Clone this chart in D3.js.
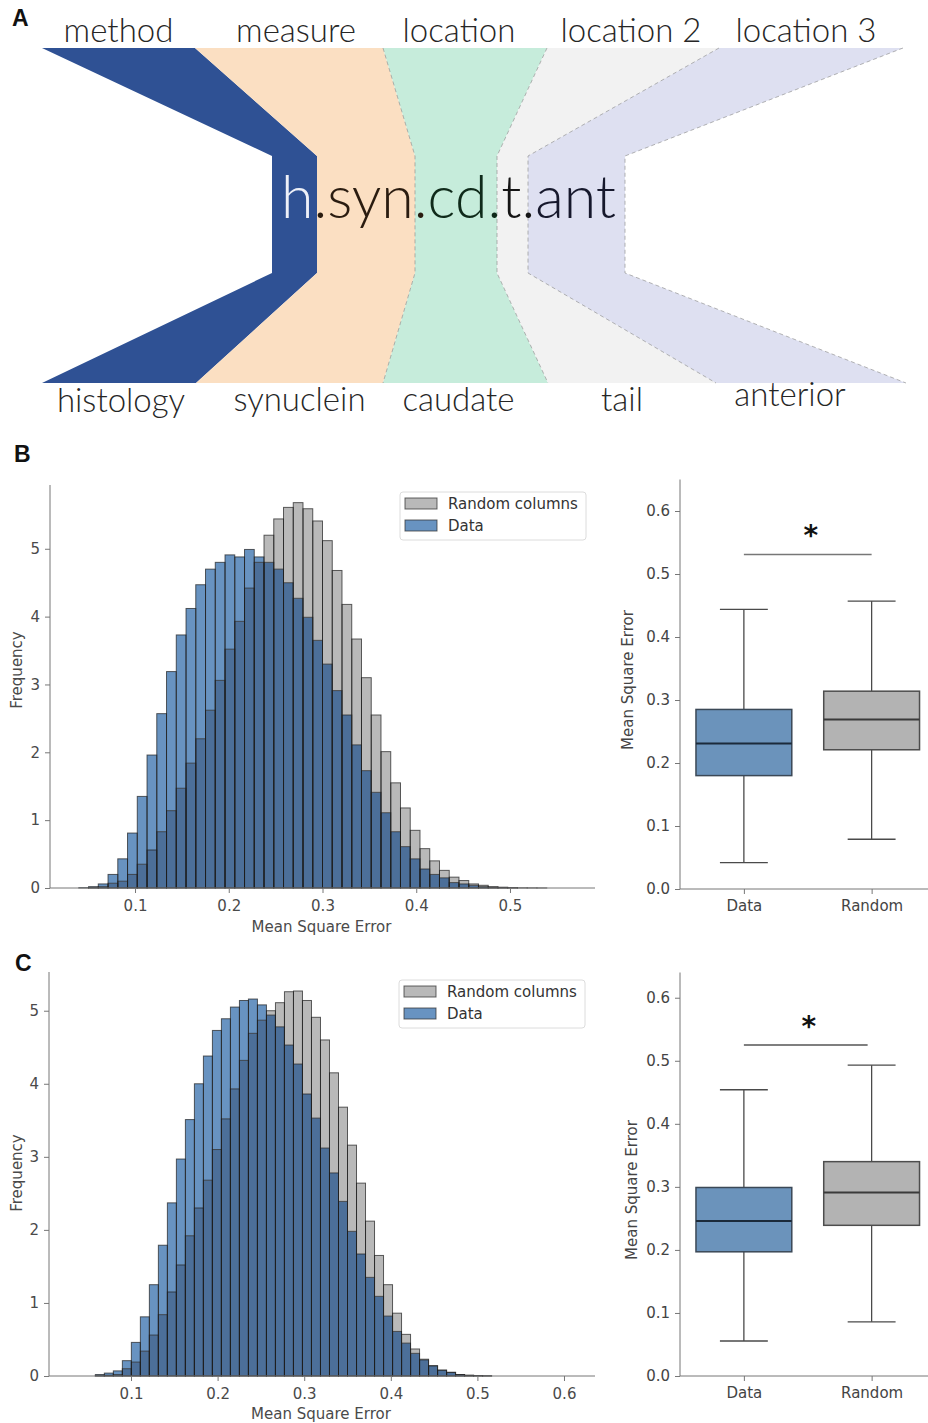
<!DOCTYPE html>
<html><head><meta charset="utf-8">
<script src="https://cdn.jsdelivr.net/npm/d3@7"></script>
<style>body{margin:0;background:#fff} svg{display:block}</style>
</head><body>
<svg id="chart" width="928" height="1423"></svg>
<script>
// ---------------- DATA ----------------
// Panel A: naming scheme diagram
const topLabels = ["method", "measure", "location", "location 2", "location 3"];
const bottomLabels = ["histology", "synuclein", "caudate", "tail", "anterior"];
const codeParts = ["h", ".syn.", "cd.", "t.", "ant"];
// cumulative band boundaries (relative units) at the top, waist and bottom of the ribbon
const topEdges = [0, 1.53, 3.41, 5.05, 6.77, 8.61];
const waistEdges = [2.30, 2.75, 3.73, 4.55, 4.86, 5.83];
const bottomEdges = [0, 1.54, 3.41, 5.06, 6.74, 8.64];

// Panel B histograms (density), bin width 0.0104 starting at 0.0400
const binWidth = 0.0104;
const binStartB = 0.0400;
const histBData = [0.005,0.02,0.06,0.20,0.43,0.81,1.35,1.96,2.57,3.19,3.73,4.12,4.47,4.70,4.80,4.91,4.88,4.99,4.88,4.80,4.70,4.50,4.27,3.99,3.65,3.30,2.91,2.55,2.11,1.73,1.41,1.11,0.83,0.61,0.43,0.28,0.20,0.15,0.08,0.06,0.04,0.02,0.01,0.005,0.002,0,0,0];
const histBRandom = [0,0.005,0.02,0.07,0.10,0.20,0.35,0.56,0.83,1.14,1.47,1.84,2.20,2.62,3.06,3.52,3.93,4.42,4.80,5.20,5.44,5.61,5.68,5.59,5.41,5.12,4.68,4.18,3.67,3.10,2.55,2.01,1.55,1.18,0.85,0.58,0.40,0.26,0.16,0.11,0.06,0.04,0.02,0.012,0.006,0.003,0.002,0.001];
// Panel C histograms, starting at 0.0588
const binStartC = 0.0588;
const histCData = [0.02,0.04,0.07,0.21,0.46,0.81,1.25,1.79,2.37,2.97,3.51,4.00,4.38,4.73,4.89,5.05,5.14,5.16,5.08,4.94,4.78,4.53,4.27,3.86,3.53,3.12,2.78,2.39,1.98,1.67,1.35,1.09,0.82,0.61,0.45,0.31,0.22,0.14,0.08,0.05,0.02,0.01,0.005,0.002];
const histCRandom = [0.003,0.01,0.02,0.10,0.19,0.34,0.56,0.84,1.15,1.52,1.92,2.30,2.68,3.10,3.52,3.93,4.32,4.69,4.87,5.00,5.11,5.26,5.27,5.14,4.91,4.60,4.15,3.68,3.16,2.64,2.12,1.65,1.25,0.86,0.57,0.37,0.23,0.14,0.08,0.05,0.02,0.01,0.006,0.003];
const histXTicksB = [0.1, 0.2, 0.3, 0.4, 0.5];
const histXTicksC = [0.1, 0.2, 0.3, 0.4, 0.5, 0.6];
const histYTicks = [0, 1, 2, 3, 4, 5];
const legendLabels = ["Random columns", "Data"];

// Box plots: [lower whisker, Q1, median, Q3, upper whisker]
const boxCategories = ["Data", "Random"];
const boxBData = [0.042, 0.180, 0.231, 0.285, 0.444];
const boxBRandom = [0.079, 0.221, 0.269, 0.314, 0.457];
const boxCData = [0.0555, 0.197, 0.246, 0.299, 0.454];
const boxCRandom = [0.086, 0.239, 0.291, 0.340, 0.493];
const sigLevelB = 0.531, sigLevelC = 0.525;
const boxYTicks = [0.0, 0.1, 0.2, 0.3, 0.4, 0.5, 0.6];

// ---------------- STYLE ----------------
const bandColors = ["#2f5194", "#fbdfc2", "#c6ecdb", "#f2f2f2", "#dee0f1"];
const codeColors = ["#eef0f8", "#2a1c10", "#0f2a1a", "#151515", "#16182c"];
const topNudge = [0, 7, -6, -2, -5];      // px offsets of labels from band centres
const bottomNudge = [2, 10, -7, -10, -21];
const bottomBase = [412, 411, 411, 411, 406];
const blueFill = "#6893c1", grayFill = "#b9b9b9", overlapFill = "#4c6f99";
const axisFont = "'DejaVu Sans', sans-serif";
const textCol = "#4a4a4a";

const svg = d3.select("#chart");

// ---------------- PANEL A ----------------
(function () {
  const x = d3.scaleLinear().domain([0, 8.64]).range([42, 906]);
  const y = d3.scaleLinear().domain([0, 1, 2, 3]).range([48, 156, 273, 383]);
  const g = svg.append("g");
  const line = d3.line();
  for (let i = 0; i < 5; i++) {
    const pts = [
      [x(topEdges[i]), y(0)], [x(topEdges[i + 1]), y(0)],
      [x(waistEdges[i + 1]), y(1)], [x(waistEdges[i + 1]), y(2)],
      [x(bottomEdges[i + 1]), y(3)], [x(bottomEdges[i]), y(3)],
      [x(waistEdges[i]), y(2)], [x(waistEdges[i]), y(1)]
    ];
    g.append("path").attr("d", line(pts) + "Z").attr("fill", bandColors[i]);
  }
  for (let j = 2; j <= 5; j++) {
    const pts = [[x(topEdges[j]), y(0)], [x(waistEdges[j]), y(1)], [x(waistEdges[j]), y(2)], [x(bottomEdges[j]), y(3)]];
    g.append("path").attr("d", line(pts)).attr("fill", "none")
      .attr("stroke", "#8a8a8a").attr("stroke-width", 0.8).attr("stroke-dasharray", "4,3").attr("opacity", 0.8);
  }
  function styleLab(sel) {
    sel.attr("text-anchor", "middle").style("font-family", "Lato, 'Open Sans', sans-serif")
      .style("font-weight", 300).style("font-size", "33px").attr("fill", "#262626");
  }
  g.selectAll("text.top").data(topLabels).join("text").attr("class", "top")
    .attr("x", (d, i) => x((topEdges[i] + topEdges[i + 1]) / 2) + topNudge[i]).attr("y", 42)
    .call(styleLab).text(d => d);
  g.selectAll("text.bot").data(bottomLabels).join("text").attr("class", "bot")
    .attr("x", (d, i) => x((bottomEdges[i] + bottomEdges[i + 1]) / 2) + bottomNudge[i]).attr("y", (d, i) => bottomBase[i])
    .call(styleLab).text(d => d);
  const t = g.append("text").attr("x", x((waistEdges[0] + waistEdges[5]) / 2)).attr("y", 218)
    .attr("text-anchor", "middle").style("font-family", "Lato, 'Open Sans', sans-serif")
    .style("font-weight", 300).style("font-size", "59px");
  t.selectAll("tspan").data(codeParts).join("tspan").attr("fill", (d, i) => codeColors[i]).text(d => d);
})();

// ---------------- panel letters ----------------
[["A", 12, 26], ["B", 14, 462], ["C", 15, 971]].forEach(([s, px, py]) => {
  svg.append("text").attr("x", px).attr("y", py).text(s)
    .style("font-family", "'Liberation Sans', Arial, sans-serif").style("font-weight", "bold")
    .style("font-size", "23px").attr("fill", "#111");
});

// ---------------- HISTOGRAM ----------------
function drawHist(o) {
  const g = svg.append("g");
  const x = d3.scaleLinear().domain(o.xDomain).range(o.xRange);
  const y = d3.scaleLinear().domain(o.yDomain).range(o.yRange);
  const bins = o.blue.map((b, i) => ({ b, r: o.gray[i] || 0, x0: o.start + i * binWidth }));
  const rx = d => x(d.x0), rw = d => x(d.x0 + binWidth) - x(d.x0);
  // overlap part
  g.append("g").selectAll("rect").data(bins.filter(d => Math.min(d.b, d.r) > 0)).join("rect")
    .attr("x", rx).attr("width", rw).attr("y", d => y(Math.min(d.b, d.r))).attr("height", d => y(0) - y(Math.min(d.b, d.r)))
    .attr("fill", overlapFill);
  // blue only
  g.append("g").selectAll("rect").data(bins.filter(d => d.b > d.r)).join("rect")
    .attr("x", rx).attr("width", rw).attr("y", d => y(d.b)).attr("height", d => y(d.r) - y(d.b))
    .attr("fill", blueFill);
  // gray only
  g.append("g").selectAll("rect").data(bins.filter(d => d.r > d.b)).join("rect")
    .attr("x", rx).attr("width", rw).attr("y", d => y(d.r)).attr("height", d => y(d.b) - y(d.r))
    .attr("fill", grayFill);
  // outlines
  ["r", "b"].forEach(k => {
    g.append("g").selectAll("rect").data(bins.filter(d => d[k] > 0)).join("rect")
      .attr("x", rx).attr("width", rw).attr("y", d => y(d[k])).attr("height", d => y(0) - y(d[k]))
      .attr("fill", "none").attr("stroke", "#1e1e1e").attr("stroke-opacity", 0.7).attr("stroke-width", 1);
  });
  const xa = g.append("g").attr("transform", `translate(0,${o.yRange[0]})`)
    .call(d3.axisBottom(x).tickValues(o.xTicks).tickFormat(d3.format(".1f")).tickSize(5).tickPadding(7));
  const ya = g.append("g").attr("transform", `translate(${o.xRange[0]},0)`)
    .call(d3.axisLeft(y).tickValues(histYTicks).tickFormat(d3.format("d")).tickSize(5).tickPadding(5));
  [xa, ya].forEach(a => {
    a.select(".domain").remove();
    a.selectAll("line").attr("stroke", "#777");
    a.selectAll("text").style("font-family", axisFont).style("font-size", "15px").attr("fill", textCol);
  });
  g.append("line").attr("x1", o.xRange[0]).attr("x2", o.xRange[1]).attr("y1", o.yRange[0]).attr("y2", o.yRange[0]).attr("stroke", "#777");
  g.append("line").attr("x1", o.xRange[0]).attr("x2", o.xRange[0]).attr("y1", o.yRange[0]).attr("y2", o.yRange[1]).attr("stroke", "#777");
  g.append("text").attr("x", (o.xRange[0] + o.xRange[1]) / 2 - 1).attr("y", o.xLabelY).attr("text-anchor", "middle")
    .style("font-family", axisFont).style("font-size", "15px").attr("fill", textCol).text("Mean Square Error");
  g.append("text").attr("transform", `translate(${o.yLabelX},${o.yLabelY}) rotate(-90)`).attr("text-anchor", "middle")
    .attr("dominant-baseline", "central")
    .style("font-family", axisFont).style("font-size", "15px").attr("fill", textCol).text("Frequency");
  const L = o.legend;
  g.append("rect").attr("x", L[0]).attr("y", L[1]).attr("width", 186).attr("height", 48).attr("rx", 3)
    .attr("fill", "#fff").attr("stroke", "#dcdcdc");
  legendLabels.forEach((lab, i) => {
    g.append("rect").attr("x", L[0] + 5).attr("y", L[1] + 6 + i * 22).attr("width", 32).attr("height", 11)
      .attr("fill", i === 0 ? grayFill : blueFill).attr("stroke", "#333").attr("stroke-opacity", 0.75);
    g.append("text").attr("x", L[0] + 48).attr("y", L[1] + 12 + i * 22).attr("dominant-baseline", "central")
      .style("font-family", axisFont).style("font-size", "15px").attr("fill", "#333").text(lab);
  });
}

drawHist({ xDomain: [0.0093, 0.5907], xRange: [50, 595], yDomain: [0, 5.94], yRange: [888, 485],
  start: binStartB, blue: histBData, gray: histBRandom, xTicks: histXTicksB,
  xLabelY: 932, yLabelX: 17, yLabelY: 670, legend: [400, 492] });
drawHist({ xDomain: [0.0053, 0.6358], xRange: [49, 595], yDomain: [0, 5.53], yRange: [1376, 972],
  start: binStartC, blue: histCData, gray: histCRandom, xTicks: histXTicksC,
  xLabelY: 1419, yLabelX: 17, yLabelY: 1173, legend: [399, 980] });

// ---------------- BOX PLOTS ----------------
function drawBox(o) {
  const g = svg.append("g");
  const x = d3.scaleLinear().domain([-0.5, 1.5]).range([680, 935.5]);
  const y = d3.scaleLinear().domain(o.yDomain).range(o.yRange);
  const sets = [o.data, o.random];
  const fills = ["#6b93bb", "#b3b3b3"], strokes = ["#3b4856", "#4d4d4d"], meds = ["#1b2a3a", "#3a3a3a"];
  sets.forEach((s, i) => {
    const c = x(i), hw = x(0.375) - x(0), cw = x(0.1875) - x(0);
    const ln = (x1, x2, y1, y2) => g.append("line").attr("x1", x1).attr("x2", x2).attr("y1", y1).attr("y2", y2)
      .attr("stroke", "#4a4a4a").attr("stroke-width", 1.3);
    ln(c, c, y(s[0]), y(s[1])); ln(c, c, y(s[3]), y(s[4]));
    ln(c - cw, c + cw, y(s[0]), y(s[0])); ln(c - cw, c + cw, y(s[4]), y(s[4]));
    g.append("rect").attr("x", c - hw).attr("width", 2 * hw).attr("y", y(s[3])).attr("height", y(s[1]) - y(s[3]))
      .attr("fill", fills[i]).attr("stroke", strokes[i]).attr("stroke-width", 1.5);
    g.append("line").attr("x1", c - hw).attr("x2", c + hw).attr("y1", y(s[2])).attr("y2", y(s[2])).attr("stroke", meds[i]).attr("stroke-width", 2);
  });
  const xa = g.append("g").attr("transform", `translate(0,${o.yRange[0]})`)
    .call(d3.axisBottom(x).tickValues([0, 1]).tickFormat(i => boxCategories[i]).tickSize(5).tickPadding(6));
  const ya = g.append("g").attr("transform", `translate(680,0)`)
    .call(d3.axisLeft(y).tickValues(boxYTicks).tickFormat(d3.format(".1f")).tickSize(5).tickPadding(5));
  [xa, ya].forEach(a => {
    a.select(".domain").remove();
    a.selectAll("line").attr("stroke", "#777");
    a.selectAll("text").style("font-family", axisFont).style("font-size", "15px").attr("fill", "#444");
  });
  g.append("line").attr("x1", 680).attr("x2", 928).attr("y1", o.yRange[0]).attr("y2", o.yRange[0]).attr("stroke", "#777");
  g.append("line").attr("x1", 680).attr("x2", 680).attr("y1", o.yRange[0]).attr("y2", o.yRange[1]).attr("stroke", "#777");
  g.append("text").attr("transform", `translate(${o.yLabelX},${o.yLabelY}) rotate(-90)`).attr("text-anchor", "middle")
    .attr("dominant-baseline", "central")
    .style("font-family", axisFont).style("font-size", "15px").attr("fill", "#444").text("Mean Square Error");
  g.append("line").attr("x1", x(0)).attr("x2", x(1) - o.sigShift).attr("y1", y(o.sig)).attr("y2", y(o.sig))
    .attr("stroke", o.sigColor).attr("stroke-width", 1.5);
  g.append("text").attr("x", (x(0) + x(1) - o.sigShift) / 2 + 3).attr("y", y(o.sig) - 9).attr("text-anchor", "middle")
    .style("font-family", "'DejaVu Sans', sans-serif").style("font-weight", "bold").style("font-size", "28px")
    .attr("fill", "#111").text("*");
}
drawBox({ yDomain: [0, 0.65], yRange: [889, 479.5], data: boxBData, random: boxBRandom, sig: sigLevelB,
  sigShift: 0, sigColor: "#777", yLabelX: 628, yLabelY: 680 });
drawBox({ yDomain: [0, 0.64], yRange: [1376, 972.5], data: boxCData, random: boxCRandom, sig: sigLevelC,
  sigShift: 4, sigColor: "#555", yLabelX: 632, yLabelY: 1190 });
</script></body></html>
